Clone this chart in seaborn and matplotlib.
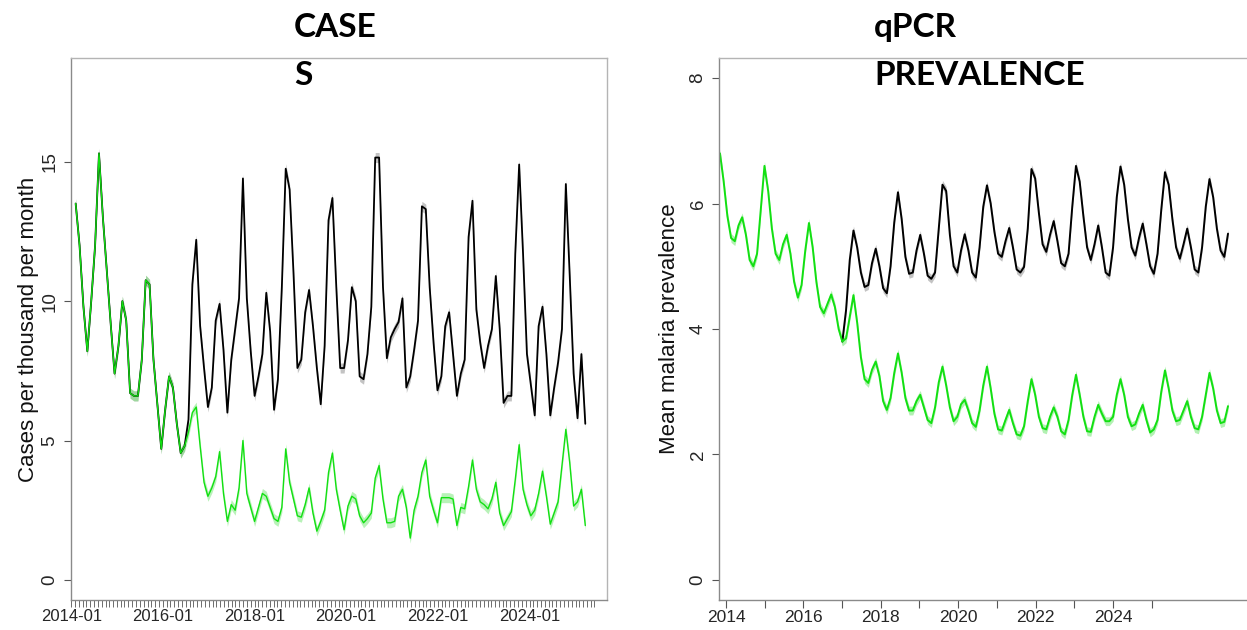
import matplotlib
matplotlib.use("Agg")
import matplotlib.pyplot as plt
import matplotlib.dates as mdates
from matplotlib.ticker import FixedLocator, NullFormatter
import numpy as np
import pandas as pd
import seaborn as sns

# ---------------- Clinical cases per thousand per month (model time steps)
CASE_START = "2014-02-05"
CASE_STEP = "31D"
cases_black = [
    13.5, 12.0, 9.8, 8.2, 10.0, 12.0, 15.3, 13.0, 11.1, 9.2,
    7.4, 8.4, 10.0, 9.3, 6.7, 6.6, 6.6, 7.9, 10.75, 10.6,
    7.9, 6.3, 4.7, 6.1, 7.3, 6.9, 5.6, 4.55, 4.8, 5.75,
    10.6, 12.2, 9.1, 7.6, 6.2, 6.9, 9.3, 9.9, 8.25, 6.0,
    7.9, 9.0, 10.1, 14.4, 10.1, 8.2, 6.6, 7.3, 8.1, 10.3,
    8.9, 6.1, 7.2, 10.5, 14.75, 14.0, 11.0, 7.6, 7.9, 9.6,
    10.4, 9.1, 7.6, 6.3, 8.4, 12.9, 13.7, 10.5, 7.6, 7.6,
    8.6, 10.5, 10.0, 7.3, 7.2, 8.1, 9.8, 15.15, 15.15, 10.5,
    7.95, 8.7, 9.0, 9.25, 10.1, 6.9, 7.3, 8.25, 9.3, 13.4,
    13.3, 10.5, 8.5, 6.8, 7.3, 9.1, 9.6, 8.1, 6.6, 7.4,
    7.9, 12.3, 13.6, 9.7, 8.5, 7.6, 8.4, 9.0, 10.9, 9.0,
    6.35, 6.6, 6.6, 11.7, 14.9, 11.7, 8.1, 7.0, 5.9, 9.1,
    9.8, 8.1, 5.9, 6.9, 7.8, 9.0, 14.2, 10.9, 7.4, 5.8,
    8.1, 5.6,
]
cases_green = [
    13.5, 12.0, 9.8, 8.2, 10.0, 12.0, 15.3, 13.0, 11.1, 9.2,
    7.4, 8.4, 10.0, 9.3, 6.7, 6.6, 6.6, 7.9, 10.75, 10.6,
    7.9, 6.3, 4.7, 6.1, 7.3, 6.9, 5.6, 4.55, 4.8, 5.3,
    6.0, 6.2, 4.8, 3.5, 3.0, 3.3, 3.7, 4.6, 3.1, 2.1,
    2.7, 2.5, 3.3, 5.0, 3.1, 2.6, 2.1, 2.6, 3.1, 3.0,
    2.6, 2.2, 2.1, 2.6, 4.7, 3.5, 2.9, 2.3, 2.25, 2.7,
    3.3, 2.4, 1.75, 2.1, 2.5, 3.85, 4.55, 3.25, 2.5, 1.8,
    2.65, 3.0, 2.9, 2.3, 2.05, 2.2, 2.4, 3.65, 4.1, 2.9,
    2.05, 2.05, 2.1, 3.0, 3.25, 2.6, 1.5, 2.5, 3.0, 3.85,
    4.3, 3.0, 2.5, 2.05, 2.95, 2.95, 2.95, 2.9, 1.95, 2.6,
    2.55, 3.35, 4.3, 3.25, 2.8, 2.7, 2.55, 2.9, 3.5, 2.4,
    1.95, 2.2, 2.45, 3.6, 4.85, 3.25, 2.7, 2.3, 2.5, 3.1,
    3.9, 3.0, 2.0, 2.4, 2.8, 4.1, 5.4, 4.2, 2.65, 2.8,
    3.25, 1.95,
]
case_tick_labels = ["2014-01", "2016-01", "2018-01", "2020-01", "2022-01", "2024-01"]
case_month_ticks = ("2014-01-01", "2025-06-01")
case_yticks = [0, 5, 10, 15]

# ---------------- Mean qPCR malaria prevalence (model time steps)
PREV_START = "2013-11-05"
PREV_STEP = "35D"
prev_green = [
    6.8, 6.35, 5.8, 5.45, 5.4, 5.65, 5.78, 5.5, 5.1, 5.0,
    5.2, 5.9, 6.6, 6.2, 5.6, 5.2, 5.1, 5.35, 5.5, 5.2,
    4.75, 4.5, 4.7, 5.25, 5.69, 5.3, 4.75, 4.35, 4.25, 4.4,
    4.55, 4.35, 4.0, 3.8, 3.85, 4.2, 4.54, 4.1, 3.55, 3.2,
    3.14, 3.35, 3.48, 3.25, 2.85, 2.71, 2.9, 3.3, 3.61, 3.3,
    2.9, 2.7, 2.7, 2.85, 2.95, 2.75, 2.55, 2.5, 2.75, 3.15,
    3.4, 3.1, 2.75, 2.53, 2.6, 2.8, 2.87, 2.7, 2.5, 2.44,
    2.7, 3.1, 3.4, 3.05, 2.65, 2.4, 2.38, 2.55, 2.71, 2.5,
    2.32, 2.3, 2.45, 2.85, 3.2, 2.95, 2.6, 2.42, 2.4, 2.6,
    2.75, 2.6, 2.37, 2.32, 2.55, 2.95, 3.27, 2.95, 2.6, 2.37,
    2.36, 2.6, 2.79, 2.65, 2.53, 2.53, 2.6, 2.95, 3.2, 2.95,
    2.6, 2.45, 2.48, 2.65, 2.79, 2.55, 2.35, 2.4, 2.55, 3.0,
    3.34, 3.05, 2.7, 2.53, 2.55, 2.7, 2.85, 2.6, 2.42, 2.4,
    2.6, 2.95, 3.3, 3.05, 2.7, 2.5, 2.52, 2.77,
]
# the black scenario shares the final time steps of the green one
prev_black = [
    3.8, 4.3, 5.1, 5.57, 5.3, 4.9, 4.67,
    4.7, 5.05, 5.28, 5.0, 4.65, 4.57, 5.0, 5.7, 6.18, 5.75,
    5.15, 4.88, 4.9, 5.25, 5.5, 5.2, 4.85, 4.8, 4.9, 5.6,
    6.3, 6.2, 5.5, 5.0, 4.9, 5.25, 5.51, 5.25, 4.9, 4.82,
    5.3, 5.95, 6.29, 6.0, 5.55, 5.2, 5.15, 5.4, 5.61, 5.3,
    4.95, 4.9, 4.99, 5.6, 6.55, 6.4, 5.85, 5.35, 5.23, 5.5,
    5.72, 5.4, 5.05, 5.0, 5.2, 5.95, 6.6, 6.35, 5.8, 5.3,
    5.1, 5.35, 5.65, 5.3, 4.9, 4.85, 5.3, 6.1, 6.59, 6.3,
    5.75, 5.3, 5.17, 5.45, 5.68, 5.35, 5.0, 4.88, 5.2, 5.9,
    6.5, 6.3, 5.75, 5.3, 5.12, 5.35, 5.6, 5.3, 4.95, 4.9,
    5.3, 5.95, 6.39, 6.1, 5.6, 5.25, 5.15, 5.52,
]
prev_years = list(range(2014, 2026))
prev_yticks = [0, 2, 4, 6, 8]

# ---------------- style
sns.set_theme(style="white")
plt.rcParams["font.family"] = ["Liberation Sans", "DejaVu Sans"]

GREEN = "#12e012"
GREEN_BAND = "#7fe87f"
BLACK = "#000000"
GREY_BAND = "#9c9c9c"
FRAME_DARK = "#8a8a8a"
FRAME_LIGHT = "#b4b4b4"
TICK_COLOR = "#555555"

W, H = 1247, 630
fig = plt.figure(figsize=(W / 100, H / 100), dpi=100)


def px_box(left, top, right, bottom):
    return [left / W, 1 - bottom / H, (right - left) / W, (bottom - top) / H]


def style_frame(ax):
    for side, sp in ax.spines.items():
        sp.set_visible(True)
        sp.set_linewidth(1.0)
        sp.set_color(FRAME_DARK if side in ("left", "bottom") else FRAME_LIGHT)
    ax.grid(False)
    ax.set_facecolor("white")


def date_num(s):
    return mdates.date2num(pd.Timestamp(s))


# ---------------- left: cases per thousand
ax1 = fig.add_axes(px_box(71, 58, 607, 600))
case_dates = pd.date_range(CASE_START, periods=len(cases_black), freq=CASE_STEP)
df_case = pd.DataFrame({"date": case_dates, "black": cases_black, "green": cases_green})
band_c = 0.18
cb = np.array(cases_black)
cg = np.array(cases_green)
ax1.fill_between(case_dates, cb - band_c, cb + band_c, color=GREY_BAND, alpha=0.6, lw=0)
sns.lineplot(data=df_case, x="date", y="black", ax=ax1, color=BLACK, linewidth=1.3)
ax1.fill_between(case_dates, cg - band_c, cg + band_c, color=GREEN_BAND, alpha=0.55, lw=0)
sns.lineplot(data=df_case, x="date", y="green", ax=ax1, color=GREEN, linewidth=1.0)

c_left = date_num("2014-01-01") - 2
ax1.set_xlim(c_left, c_left + 536 / 0.1255)
ax1.set_ylim(-0.72, 18.72)
ax1.xaxis.set_major_locator(FixedLocator([date_num(s + "-01") for s in case_tick_labels]))
ax1.set_xticklabels(case_tick_labels)
month_ticks = pd.date_range(case_month_ticks[0], case_month_ticks[1], freq="MS")
ax1.xaxis.set_minor_locator(FixedLocator(mdates.date2num(month_ticks)))
ax1.xaxis.set_minor_formatter(NullFormatter())
ax1.set_yticks(case_yticks)
ax1.set_yticklabels([str(v) for v in case_yticks], rotation=90, va="center")
ax1.set_xlabel("")
ax1.set_ylabel("Cases per thousand per month", fontsize=16, color="#111111")
ax1.yaxis.set_label_coords(-0.08, 0.5)
ax1.yaxis.label.set_verticalalignment("center")
style_frame(ax1)
ax1.tick_params(axis="x", which="both", direction="out", length=5, width=0.6,
                color=TICK_COLOR, labelsize=12, pad=1.5, bottom=True)
ax1.tick_params(axis="y", direction="out", length=5, width=0.8, color=TICK_COLOR,
                labelsize=13.5, pad=4, left=True)

# ---------------- right: mean prevalence
ax2 = fig.add_axes(px_box(719, 58, 1256, 600))
prev_dates = pd.date_range(PREV_START, periods=len(prev_green), freq=PREV_STEP)
black_dates = prev_dates[len(prev_green) - len(prev_black):]
df_pg = pd.DataFrame({"date": prev_dates, "prev": prev_green})
df_pb = pd.DataFrame({"date": black_dates, "prev": prev_black})
band_p = 0.07
pg = np.array(prev_green)
pbk = np.array(prev_black)
ax2.fill_between(black_dates, pbk - band_p, pbk + band_p, color=GREY_BAND, alpha=0.6, lw=0)
sns.lineplot(data=df_pb, x="date", y="prev", ax=ax2, color=BLACK, linewidth=1.4)
ax2.fill_between(prev_dates, pg - band_p, pg + band_p, color=GREEN_BAND, alpha=0.6, lw=0)
sns.lineplot(data=df_pg, x="date", y="prev", ax=ax2, color=GREEN, linewidth=1.4)

p_px_day = 38.7 / 365.25
p_left = date_num("2014-01-01") - 7 / p_px_day
ax2.set_xlim(p_left, p_left + 537 / p_px_day)
ax2.set_ylim(-0.32, 8.32)
ax2.xaxis.set_major_locator(FixedLocator([date_num(f"{y}-01-01") for y in prev_years]))
ax2.set_xticklabels([str(y) if y % 2 == 0 else "" for y in prev_years])
ax2.set_yticks(prev_yticks)
ax2.set_yticklabels([str(v) for v in prev_yticks], rotation=90, va="center")
ax2.set_xlabel("")
ax2.set_ylabel("Mean malaria prevalence", fontsize=16, color="#111111")
ax2.yaxis.set_label_coords(-0.092, 0.5)
ax2.yaxis.label.set_verticalalignment("center")
style_frame(ax2)
ax2.tick_params(axis="x", direction="out", length=6, width=0.8, color=TICK_COLOR,
                labelsize=12.5, pad=1.5, bottom=True)
ax2.tick_params(axis="y", direction="out", length=5, width=0.8, color=TICK_COLOR,
                labelsize=13.5, pad=4, left=True)

# ---------------- panel titles
title_kw = dict(fontfamily=["Lato", "DejaVu Sans"], fontweight="bold", fontsize=24,
                va="top", ha="left", linespacing=1.8, color="black")
fig.text(294 / W, 1 - 13 / H, "CASE\nS", **title_kw)
fig.text(874 / W, 1 - 13 / H, "qPCR\nPREVALENCE", **title_kw)

fig.savefig("out.png", dpi=100)
